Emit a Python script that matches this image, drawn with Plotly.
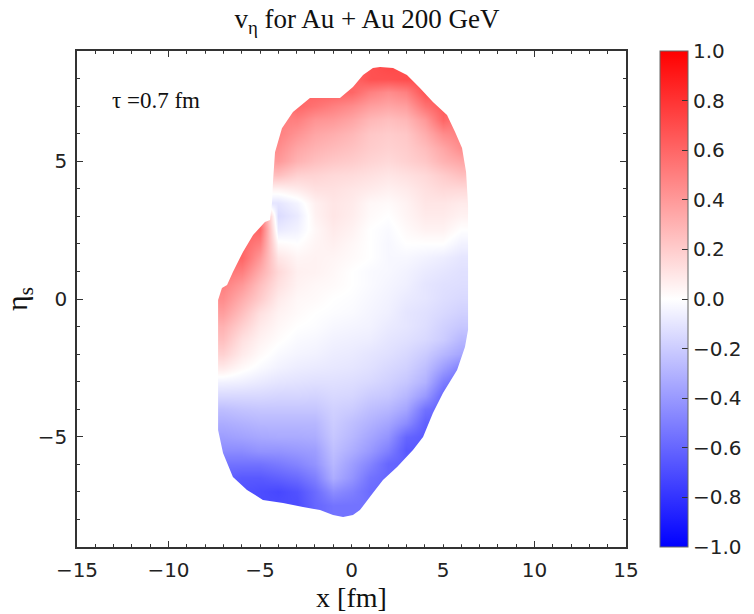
import plotly.graph_objects as go

# grid node positions (cell centres) of the v_eta readings
x_nodes = [-8, -7, -6, -5, -4, -3, -2, -1, 0, 1, 2, 3, 4, 5, 6, 7]
eta_nodes_top_down = [8.5, 8.0, 7.5, 7.0, 6.5, 6.0, 5.5, 5.0, 4.5, 4.0, 3.5, 3.0, 2.5, 2.0, 1.5, 1.0,
                      0.5, 0.0, -0.5, -1.0, -1.5, -2.0, -2.5, -3.0, -3.5, -4.0, -4.5, -5.0, -5.5,
                      -6.0, -6.5, -7.0, -7.5, -8.0, -8.5]

# v_eta, rows from top (eta=8.5) to bottom (eta=-8.5)
v_eta_rows = [
    [0, 0, 0, 0.4, 0.5, 0.6, 0.62, 0.62, 0.6, 0.68, 0.72, 0.7, 0.68, 0.65, 0.5, 0.4],
    [0, 0, 0, 0.4, 0.5, 0.6, 0.62, 0.62, 0.6, 0.68, 0.68, 0.7, 0.68, 0.65, 0.5, 0.4],
    [0, 0, 0, 0.4, 0.5, 0.6, 0.62, 0.62, 0.6, 0.5, 0.45, 0.5, 0.68, 0.65, 0.5, 0.4],
    [0, 0, 0, 0.4, 0.5, 0.6, 0.55, 0.5, 0.45, 0.38, 0.35, 0.38, 0.55, 0.65, 0.5, 0.4],
    [0, 0, 0, 0.4, 0.5, 0.5, 0.42, 0.4, 0.35, 0.28, 0.25, 0.28, 0.4, 0.6, 0.5, 0.4],
    [0, 0, 0, 0.4, 0.5, 0.42, 0.35, 0.32, 0.28, 0.22, 0.2, 0.22, 0.32, 0.45, 0.5, 0.45],
    [0, 0, 0, 0.45, 0.45, 0.35, 0.3, 0.27, 0.24, 0.2, 0.18, 0.2, 0.26, 0.35, 0.45, 0.45],
    [0, 0, 0, 0.4, 0.4, 0.3, 0.25, 0.22, 0.2, 0.17, 0.15, 0.18, 0.22, 0.3, 0.35, 0.35],
    [0, 0, 0, 0.25, 0.25, 0.18, 0.17, 0.15, 0.14, 0.12, 0.1, 0.12, 0.15, 0.2, 0.25, 0.25],
    [0, 0, 0, 0.05, 0.05, 0.08, 0.12, 0.12, 0.1, 0.08, 0.06, 0.08, 0.12, 0.15, 0.15, 0.15],
    [0, 0, 0, -0.1, -0.1, -0.04, 0.06, 0.1, 0.08, 0.03, 0.02, 0.05, 0.1, 0.1, 0.08, 0.08],
    [0, 0, 0.5, 0.55, -0.14, -0.08, 0.05, 0.1, 0.07, 0.02, 0.0, 0.04, 0.08, 0.08, 0.05, 0.05],
    [0, 0.6, 0.6, 0.6, -0.08, -0.05, 0.03, 0.08, 0.05, 0.0, -0.02, 0.02, 0.05, 0.05, 0.0, 0.0],
    [0, 0.6, 0.6, 0.5, 0.02, 0.0, 0.04, 0.06, 0.03, 0.0, -0.03, 0.0, 0.0, 0.0, -0.05, -0.05],
    [0.6, 0.6, 0.6, 0.4, 0.1, 0.04, 0.05, 0.04, 0.02, 0.0, -0.03, -0.03, -0.05, -0.07, -0.1, -0.1],
    [0.55, 0.55, 0.5, 0.32, 0.15, 0.06, 0.05, 0.03, 0.0, -0.02, -0.03, -0.05, -0.08, -0.1, -0.12, -0.12],
    [0.5, 0.5, 0.4, 0.25, 0.12, 0.05, 0.03, 0.02, 0.0, -0.02, -0.04, -0.06, -0.1, -0.12, -0.13, -0.13],
    [0.45, 0.45, 0.32, 0.2, 0.08, 0.03, 0.02, 0.0, -0.01, -0.03, -0.05, -0.08, -0.1, -0.13, -0.15, -0.15],
    [0.38, 0.38, 0.25, 0.12, 0.05, 0.02, 0.0, -0.01, -0.02, -0.04, -0.06, -0.1, -0.12, -0.15, -0.18, -0.18],
    [0.3, 0.3, 0.18, 0.08, 0.03, 0.0, -0.01, -0.03, -0.04, -0.05, -0.08, -0.1, -0.13, -0.18, -0.22, -0.22],
    [0.25, 0.25, 0.12, 0.05, 0.01, -0.02, -0.03, -0.05, -0.06, -0.07, -0.1, -0.12, -0.15, -0.2, -0.28, -0.28],
    [0.18, 0.18, 0.08, 0.02, -0.02, -0.04, -0.05, -0.07, -0.08, -0.1, -0.12, -0.15, -0.2, -0.28, -0.35, -0.35],
    [0.08, 0.08, 0.02, -0.02, -0.05, -0.07, -0.08, -0.09, -0.1, -0.12, -0.15, -0.18, -0.25, -0.38, -0.5, -0.5],
    [-0.05, -0.05, -0.06, -0.08, -0.1, -0.11, -0.12, -0.12, -0.13, -0.15, -0.18, -0.22, -0.3, -0.5, -0.6, -0.6],
    [-0.15, -0.15, -0.15, -0.15, -0.16, -0.16, -0.17, -0.15, -0.16, -0.2, -0.22, -0.28, -0.4, -0.6, -0.6, -0.6],
    [-0.25, -0.25, -0.23, -0.22, -0.22, -0.22, -0.22, -0.18, -0.2, -0.25, -0.28, -0.35, -0.55, -0.62, -0.62, -0.6],
    [-0.32, -0.32, -0.3, -0.28, -0.28, -0.28, -0.28, -0.2, -0.25, -0.3, -0.35, -0.45, -0.62, -0.62, -0.62, -0.6],
    [-0.38, -0.38, -0.36, -0.34, -0.33, -0.33, -0.32, -0.22, -0.28, -0.35, -0.42, -0.6, -0.65, -0.65, -0.6, -0.6],
    [-0.45, -0.45, -0.45, -0.42, -0.42, -0.4, -0.38, -0.25, -0.32, -0.4, -0.5, -0.65, -0.65, -0.6, -0.6, -0.6],
    [-0.55, -0.55, -0.55, -0.55, -0.52, -0.48, -0.42, -0.28, -0.38, -0.48, -0.6, -0.62, -0.6, -0.6, -0.6, -0.6],
    [-0.62, -0.62, -0.65, -0.65, -0.62, -0.58, -0.5, -0.32, -0.42, -0.55, -0.6, -0.6, -0.6, -0.6, -0.6, -0.6],
    [-0.65, -0.65, -0.68, -0.7, -0.72, -0.68, -0.58, -0.45, -0.5, -0.58, -0.6, -0.6, -0.6, -0.6, -0.6, -0.6],
    [-0.7, -0.7, -0.7, -0.7, -0.7, -0.7, -0.6, -0.55, -0.55, -0.55, -0.55, -0.55, -0.55, -0.55, -0.55, -0.55],
    [-0.7, -0.7, -0.7, -0.7, -0.7, -0.7, -0.6, -0.55, -0.55, -0.55, -0.55, -0.55, -0.55, -0.55, -0.55, -0.55],
    [-0.7, -0.7, -0.7, -0.7, -0.7, -0.7, -0.6, -0.55, -0.55, -0.55, -0.55, -0.55, -0.55, -0.55, -0.55, -0.55],
]

# outline of the fireball (x [fm], eta_s), clockwise from top
outline_x = [1.56, 2.27, 3.03, 3.74, 4.45, 5.22, 5.66, 6.04, 6.26, 6.37, 6.37, 6.37, 6.20, 5.77, 5.00,
             4.45, 3.91, 3.36, 2.49, 1.72, 1.17, 0.46, 0.08, -0.46, -1.01, -1.72, -2.65, -3.74, -4.84,
             -5.71, -6.48, -7.02, -7.29, -7.29, -7.08, -6.80, -6.48, -5.93, -5.38, -4.73, -4.45, -4.34,
             -4.29, -4.18, -3.80, -3.20, -2.27, -0.63, 0.08, 0.63, 1.17]
outline_eta = [8.42, 8.38, 8.13, 7.66, 7.15, 6.68, 6.06, 5.48, 4.61, 3.41, 0.69, -1.12, -1.74, -2.58,
               -3.41, -4.14, -5.01, -5.48, -6.10, -6.57, -7.04, -7.66, -7.84, -7.91, -7.84, -7.66,
               -7.55, -7.40, -7.29, -6.93, -6.46, -5.59, -4.75, -0.04, 0.40, 0.51, 0.98, 1.71, 2.32,
               2.79, 2.87, 3.52, 4.25, 5.33, 6.20, 6.79, 7.29, 7.29, 7.69, 8.13, 8.38]

x_ticks = [-15, -10, -5, 0, 5, 10, 15]
eta_ticks = [-5, 0, 5]
cbar_ticks = [1.0, 0.8, 0.6, 0.4, 0.2, 0.0, -0.2, -0.4, -0.6, -0.8, -1.0]


def lab(v, fmt):
    s = fmt.format(abs(v))
    return ("\u2212" + s) if v < 0 else s


eta_nodes = eta_nodes_top_down[::-1]
z = v_eta_rows[::-1]

fig = go.Figure()
fig.add_trace(go.Heatmap(
    x=x_nodes, y=eta_nodes, z=z, zmin=-1, zmax=1, zsmooth="best",
    colorscale=[[0, "rgb(0,0,255)"], [0.5, "rgb(255,255,255)"], [1, "rgb(255,0,0)"]],
    colorbar=dict(
        x=1.062, xanchor="left", xpad=0, y=0.5, yanchor="middle", len=1.0, lenmode="fraction",
        ypad=0, thickness=28, outlinewidth=1, outlinecolor="#666",
        tickvals=cbar_ticks, ticktext=[lab(v, "{:.1f}") for v in cbar_ticks],
        ticks="inside", ticklen=6, tickcolor="#333",
        tickfont=dict(family="DejaVu Sans", size=20, color="#222"),
    ),
    hoverinfo="skip",
))

# white mask outside the fireball outline
xs_lo, xs_hi = x_nodes[0] - 0.7, x_nodes[-1] + 0.7
ys_lo, ys_hi = eta_nodes[0] - 0.4, eta_nodes[-1] + 0.4
path = f"M{xs_lo},{ys_lo} L{xs_hi},{ys_lo} L{xs_hi},{ys_hi} L{xs_lo},{ys_hi} Z "
path += "M" + " L".join(f"{a},{b}" for a, b in zip(outline_x, outline_eta)) + " Z"
fig.add_shape(type="path", path=path, xref="x", yref="y", fillcolor="white",
              fillrule="evenodd", line=dict(width=0), layer="above")

fig.add_annotation(x=-13.2, y=7.2, xref="x", yref="y", text="\u03c4 =0.7 fm", showarrow=False,
                   xanchor="left", yanchor="middle",
                   font=dict(family="Liberation Serif", size=23, color="#111"))

axis_common = dict(showline=True, mirror="allticks", linecolor="#333", linewidth=1.5,
                   ticks="inside", ticklen=6, tickwidth=1, tickcolor="#333",
                   showgrid=False, zeroline=False,
                   tickfont=dict(family="DejaVu Sans", size=20, color="#222"),
                   minor=dict(dtick=1, ticks="inside", ticklen=3, tickcolor="#333", showgrid=False))

fig.update_layout(
    width=754, height=614,
    margin=dict(l=77, r=128, t=51, b=67, autoexpand=False),
    paper_bgcolor="white", plot_bgcolor="white",
    title=dict(text="v<sub>\u03b7</sub> for Au + Au 200 GeV", x=367 / 754, xanchor="center",
               y=1 - 19 / 614, yanchor="middle",
               font=dict(family="Liberation Serif", size=27, color="#111")),
    xaxis=dict(range=[-15, 15], tickvals=x_ticks, ticktext=[lab(v, "{:d}") for v in x_ticks],
               ticklabelstandoff=4,
               title=dict(text="x [fm]", font=dict(family="Liberation Serif", size=28, color="#111"),
                          standoff=2),
               **axis_common),
    yaxis=dict(range=[-9, 9], tickvals=eta_ticks, ticktext=[lab(v, "{:d}") for v in eta_ticks],
               ticklabelstandoff=4,
               title=dict(text="\u03b7<sub>s</sub>", font=dict(family="Liberation Serif", size=30, color="#111"),
                          standoff=8),
               **axis_common),
)

fig.write_html("out.html")
